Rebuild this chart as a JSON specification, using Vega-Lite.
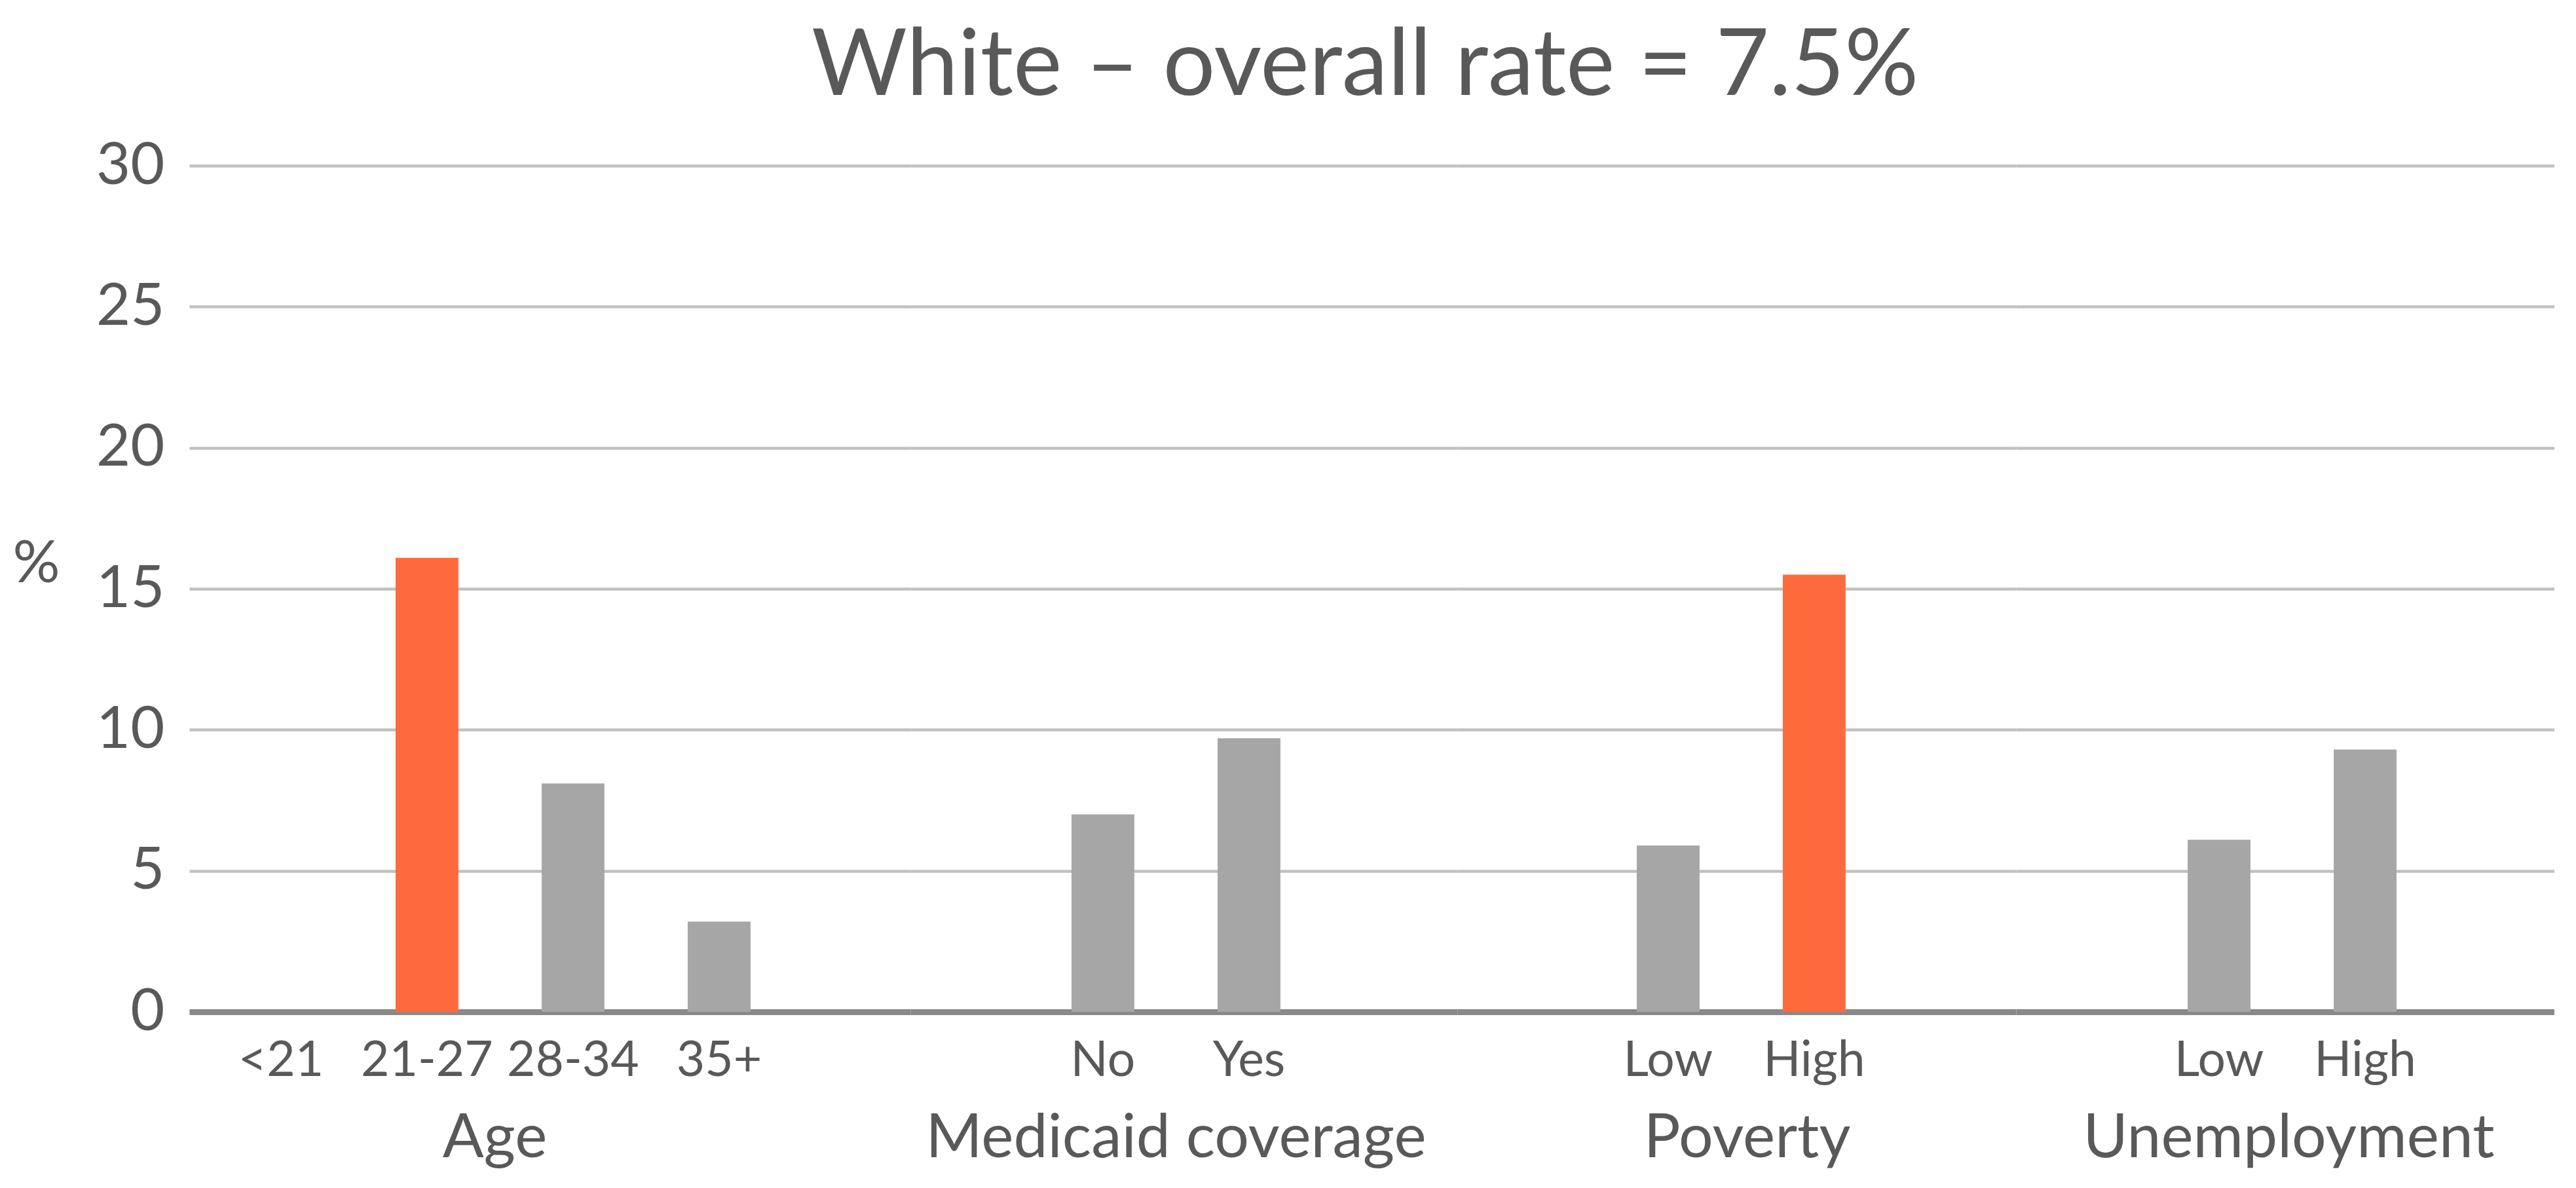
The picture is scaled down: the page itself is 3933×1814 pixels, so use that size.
{
  "$schema": "https://vega.github.io/schema/vega-lite/v6.json",
  "background": "white",
  "padding": {"left": 18, "top": 32, "right": 0, "bottom": 0},
  "title": {"text": "White – overall rate = 7.5%", "fontSize": 141, "font": "Lato", "fontWeight": "normal", "color": "#595959", "anchor": "start", "frame": "group", "baseline": "alphabetic", "offset": -78, "dx": 950},
  "data": {"values": [
    {"group": "Age", "category": "<21", "rate": null},
    {"group": "Age", "category": "21-27", "rate": 16.1},
    {"group": "Age", "category": "28-34", "rate": 8.1},
    {"group": "Age", "category": "35+", "rate": 3.2},
    {"group": "Medicaid coverage", "category": "No", "rate": 7.0},
    {"group": "Medicaid coverage", "category": "Yes", "rate": 9.7},
    {"group": "Poverty", "category": "Low", "rate": 5.9},
    {"group": "Poverty", "category": "High", "rate": 15.5},
    {"group": "Unemployment", "category": "Low", "rate": 6.1},
    {"group": "Unemployment", "category": "High", "rate": 9.3}
  ]},
  "spacing": 0,
  "bounds": "flush",
  "config": {
    "font": "Lato",
    "view": {"stroke": null},
    "axisX": {"labelAngle": 0, "labelFontSize": 75, "labelColor": "#595959", "labelFont": "Lato", "labelLimit": 0, "ticks": false, "tickSize": 0, "domain": true, "domainColor": "#898989", "domainWidth": 9, "labelPadding": 38, "titleFontSize": 93, "titleFontWeight": "normal", "titleColor": "#595959", "titleFont": "Lato", "titlePadding": 36, "titleLimit": 0, "grid": false},
    "axisY": {"grid": true, "gridColor": "#C0C0C0", "gridWidth": 4.5, "domain": false, "ticks": false, "tickSize": 0, "labelFontSize": 90, "labelColor": "#595959", "labelFont": "Lato", "labelPadding": 38, "titleFontSize": 90, "titleFontWeight": "normal", "titleColor": "#595959", "titleFont": "Lato"}
  },
  "hconcat": [
    {
      "width": 1101, "height": 1292,
      "transform": [{"filter": "datum.group === 'Age'"}],
      "mark": {"type": "bar", "width": {"band": 0.43}},
      "encoding": {
        "x": {"field": "category", "type": "nominal", "sort": null, "scale": {"domain": ["<21", "21-27", "28-34", "35+"], "paddingInner": 0, "paddingOuter": 0.4686, "align": 0.136}, "axis": {"title": "Age", "titleX": 466}},
        "y": {"field": "rate", "type": "quantitative", "scale": {"domain": [0, 30]}, "axis": {"values": [0, 5, 10, 15, 20, 25, 30], "title": "%", "titleAngle": 0, "titleX": -234, "titleY": 608, "titleAlign": "center", "titleBaseline": "middle"}},
        "color": {"condition": {"test": "datum.rate > 12", "value": "#FF6A3D"}, "value": "#A6A6A6"}
      }
    },
    {
      "width": 835, "height": 1292,
      "transform": [{"filter": "datum.group === 'Medicaid coverage'"}],
      "mark": {"type": "bar", "width": {"band": 0.43}},
      "encoding": {
        "x": {"field": "category", "type": "nominal", "sort": null, "scale": {"domain": ["No", "Yes"], "paddingInner": 0, "paddingOuter": 0.872, "align": 0.469}, "axis": {"title": "Medicaid coverage", "titleX": 405}},
        "y": {"field": "rate", "type": "quantitative", "scale": {"domain": [0, 30]}, "axis": {"values": [0, 5, 10, 15, 20, 25, 30], "labels": false, "title": null}},
        "color": {"condition": {"test": "datum.rate > 12", "value": "#FF6A3D"}, "value": "#A6A6A6"}
      }
    },
    {
      "width": 853, "height": 1292,
      "transform": [{"filter": "datum.group === 'Poverty'"}],
      "mark": {"type": "bar", "width": {"band": 0.43}},
      "encoding": {
        "x": {"field": "category", "type": "nominal", "sort": null, "scale": {"domain": ["Low", "High"], "paddingInner": 0, "paddingOuter": 0.9126, "align": 0.517}, "axis": {"title": "Poverty", "titleX": 442}},
        "y": {"field": "rate", "type": "quantitative", "scale": {"domain": [0, 30]}, "axis": {"values": [0, 5, 10, 15, 20, 25, 30], "labels": false, "title": null}},
        "color": {"condition": {"test": "datum.rate > 12", "value": "#FF6A3D"}, "value": "#A6A6A6"}
      }
    },
    {
      "width": 822, "height": 1292,
      "transform": [{"filter": "datum.group === 'Unemployment'"}],
      "mark": {"type": "bar", "width": {"band": 0.43}},
      "encoding": {
        "x": {"field": "category", "type": "nominal", "sort": null, "scale": {"domain": ["Low", "High"], "paddingInner": 0, "paddingOuter": 0.843, "align": 0.528}, "axis": {"title": "Unemployment", "titleX": 416}},
        "y": {"field": "rate", "type": "quantitative", "scale": {"domain": [0, 30]}, "axis": {"values": [0, 5, 10, 15, 20, 25, 30], "labels": false, "title": null}},
        "color": {"condition": {"test": "datum.rate > 12", "value": "#FF6A3D"}, "value": "#A6A6A6"}
      }
    }
  ]
}
